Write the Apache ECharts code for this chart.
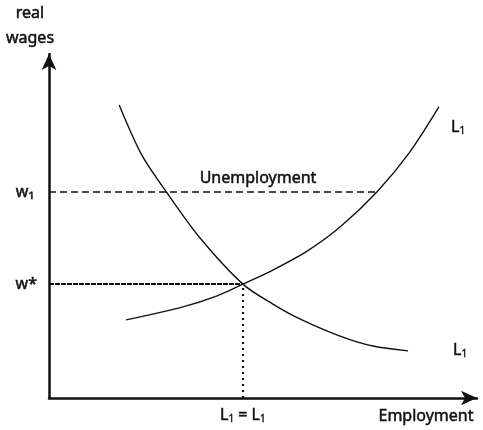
<!DOCTYPE html>
<html>
<head>
<meta charset="utf-8">
<script src="https://cdn.jsdelivr.net/npm/echarts@6/dist/echarts.min.js"></script>
<style>
  html, body { margin: 0; padding: 0; background: #fff; }
  #chart { width: 483px; height: 430px; }
</style>
</head>
<body>
<div id="chart"></div>
<script>
// Labour market: demand and supply of labour against the real wage
const demandEmployment = [16.4, 21.7, 27.6, 35.3, 45.3, 52.3, 58.6, 68.0, 75.7, 83.9];
const demandWage       = [85.2, 70.6, 59.6, 46.5, 33.1, 27.3, 23.0, 18.0, 15.1, 13.7];
const supplyEmployment = [18.0, 31.3, 39.3, 45.3, 52.3, 60.3, 68.0, 76.6, 84.3, 91.1];
const supplyWage       = [22.7, 26.5, 29.7, 33.1, 37.2, 42.7, 49.7, 59.9, 71.5, 84.6];

const wageAbove = 59.9;     // w1
const wageEquil = 33.1;     // w*
const employEquil = 45.3;   // L1 = L1
const supplyAtW1 = 76.6;    // where w1 meets the supply curve

const wageLabels = ['w\u2081', 'w*'];
const axisNames = ['real', 'wages', 'Employment'];

const INK = '#111';
const FONT = '"Noto Sans", sans-serif';
const SIZE = 16;

const pair = (xs, ys) => xs.map((x, i) => [x, ys[i]]);

// rich styles for series labels (ECharts naming)
const sub1 = {
  base: { fontFamily: FONT, fontSize: SIZE, color: INK, textBorderColor: INK, textBorderWidth: 0.5 },
  sub: { fontFamily: FONT, fontSize: 10, color: INK, padding: [8, 0, 0, 0], textBorderColor: INK, textBorderWidth: 0.4 }
};
// rich styles for graphic text elements (zrender naming)
const sub1Graphic = {
  base: { fontFamily: FONT, fontSize: SIZE, fill: INK, stroke: INK, lineWidth: 0.5 },
  sub: { fontFamily: FONT, fontSize: 10, fill: INK, stroke: INK, lineWidth: 0.4, padding: [8, 0, 0, 0] }
};

const textStyle = (text) => ({
  text, font: SIZE + 'px ' + FONT, fill: INK, stroke: INK, lineWidth: 0.5,
  textAlign: 'center', textVerticalAlign: 'middle'
});

const tickText = { fontFamily: FONT, fontSize: SIZE, color: INK, textBorderColor: INK, textBorderWidth: 0.5 };

const chart = echarts.init(document.getElementById('chart'));
chart.setOption({
  animation: false,
  backgroundColor: '#fff',
  grid: { left: 49, right: 6, top: 54, bottom: 32 },
  xAxis: {
    type: 'value', min: 0, max: 100,
    axisLine: { lineStyle: { color: INK, width: 2.5 }, symbol: ['none', 'arrow'], symbolSize: [11, 16] },
    axisTick: { show: false }, axisLabel: { show: false }, splitLine: { show: false }
  },
  yAxis: {
    type: 'value', min: 0, max: 100,
    axisLine: { lineStyle: { color: INK, width: 2.5 }, symbol: ['none', 'arrow'], symbolSize: [11, 16] },
    axisTick: { show: false }, axisLabel: { show: false }, splitLine: { show: false }
  },
  series: [
    {
      name: 'demand', type: 'line', data: pair(demandEmployment, demandWage),
      smooth: 0.3, showSymbol: false,
      lineStyle: { color: INK, width: 1.4 }
    },
    {
      name: 'supply', type: 'line', data: pair(supplyEmployment, supplyWage),
      smooth: 0.3, showSymbol: false,
      lineStyle: { color: INK, width: 1.4 }
    },
    {
      name: 'guides', type: 'line', data: [], silent: true,
      markLine: {
        symbol: 'none', silent: true, animation: false,
        data: [
          [
            { coord: [0, wageAbove], lineStyle: { type: [7, 4], color: INK, width: 1.6 },
              label: Object.assign({ show: true, position: 'start', formatter: wageLabels[0], distance: 15 }, tickText) },
            { coord: [supplyAtW1, wageAbove] }
          ],
          [
            { coord: [0, wageEquil], lineStyle: { type: [5, 1], color: INK, width: 1.8 },
              label: Object.assign({ show: true, position: 'start', formatter: wageLabels[1], distance: 12 }, tickText) },
            { coord: [employEquil, wageEquil] }
          ],
          [
            { coord: [employEquil, 0], lineStyle: { type: [2, 4], color: INK, width: 2.2 },
              label: { show: true, position: 'start', distance: 8,
                       formatter: '{base|L}{sub|1}{base| = L}{sub|1}', rich: sub1 } },
            { coord: [employEquil, wageEquil] }
          ]
        ]
      }
    }
  ],
  graphic: [
    { type: 'text', position: [30, 13], style: textStyle(axisNames[0]) },
    { type: 'text', position: [30, 38], style: textStyle(axisNames[1]) },
    { type: 'text', position: [426, 416], style: textStyle(axisNames[2]) },
    { type: 'text', position: [258, 178], style: textStyle('Unemployment') },
    { type: 'text', position: [451, 127], style: { text: '{base|L}{sub|1}', rich: sub1Graphic, verticalAlign: 'middle' } },
    { type: 'text', position: [453, 350], style: { text: '{base|L}{sub|1}', rich: sub1Graphic, verticalAlign: 'middle' } }
  ]
});
</script>
</body>
</html>
